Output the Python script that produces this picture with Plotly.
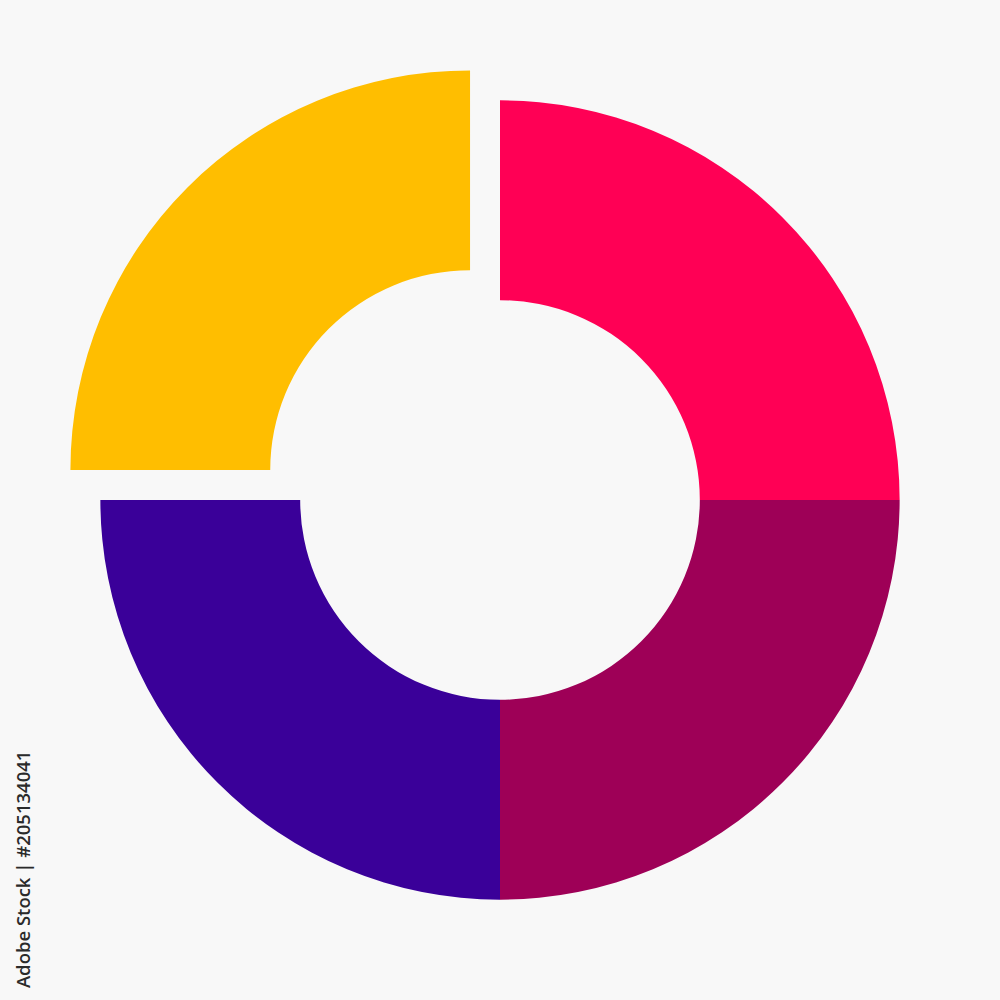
import plotly.graph_objects as go

labels = ["A", "B", "C", "D"]
values = [25, 25, 25, 25]
colors = ["#FF0055", "#9E0057", "#3A0099", "#FFBE00"]
pulls = [0, 0, 0, 0.106]
watermark = "Adobe Stock | #205134041"

fig = go.Figure(go.Pie(
    labels=labels, values=values, hole=0.5, sort=False, direction="clockwise",
    rotation=0, pull=pulls, marker=dict(colors=colors, line=dict(width=0)),
    textinfo="none", hoverinfo="label+value", showlegend=False,
))
fig.update_layout(
    width=1000, height=1000,
    margin=dict(l=57.5, r=57.5, t=57.5, b=57.5, autoexpand=False),
    paper_bgcolor="#F8F8F8", plot_bgcolor="#F8F8F8",
    annotations=[dict(text=watermark,
                      x=(22 - 57.5) / 885, y=(1000 - 870 - 57.5) / 885,
                      xref="paper", yref="paper", xanchor="center", yanchor="middle",
                      showarrow=False, textangle=-90,
                      font=dict(family="Open Sans", size=18.5, color="#2a2a2a", weight=600))],
)
fig.write_html("out.html", config={"displayModeBar": False},
               post_script="document.body.style.margin='0';document.body.style.background='#F8F8F8';")
